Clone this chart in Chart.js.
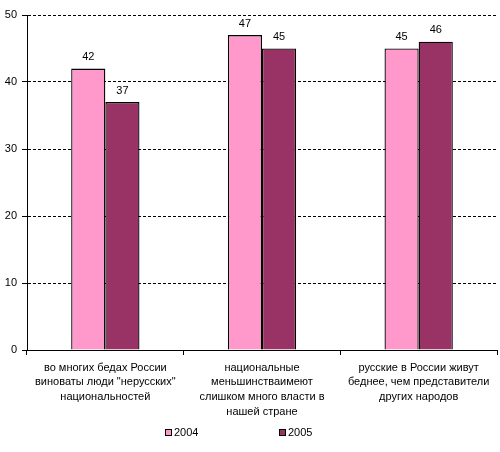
<!DOCTYPE html>
<html>
<head>
<meta charset="utf-8">
<script src="https://cdn.jsdelivr.net/npm/chart.js@4/dist/chart.umd.min.js"></script>
<style>
  html, body { margin: 0; padding: 0; background: #fff; }
  #wrap { width: 500px; height: 452px; }
</style>
</head>
<body>
<div id="wrap"><canvas id="chart" width="500" height="452"></canvas></div>
<script>
// ----- DATA -----
const categories = [
  ['во многих бедах России', 'виноваты люди "нерусских"', 'национальностей'],
  ['национальные', 'меньшинстваимеют', 'слишком много власти в', 'нашей стране'],
  ['русские в России живут', 'беднее, чем представители', 'других народов'],
]
const seriesNames = ['2004', '2005']
const values2004 = [42, 47, 45]
const values2005 = [37, 45, 46]
const yTicks = [0, 10, 20, 30, 40, 50]

const FONT = 'Liberation Sans, Arial, sans-serif'
const colors = ['#FF99CC', '#993366']

// values above each bar
const valueLabels = {
  id: 'valueLabels',
  afterDatasetsDraw(chart) {
    const ctx = chart.ctx
    ctx.save()
    ctx.font = '11px ' + FONT
    ctx.fillStyle = '#000'
    ctx.textAlign = 'center'
    ctx.textBaseline = 'bottom'
    chart.data.datasets.forEach((ds, i) => {
      chart.getDatasetMeta(i).data.forEach((bar, j) => {
        ctx.fillText(String(ds.data[j]), bar.x, bar.y - 6)
      })
    })
    ctx.restore()
  },
}

// small square legend under the chart
const bottomLegend = {
  id: 'bottomLegend',
  afterDraw(chart) {
    const ctx = chart.ctx
    const y = chart.height - 19
    const starts = [165, 279]
    ctx.save()
    ctx.font = '11px ' + FONT
    ctx.textBaseline = 'middle'
    chart.data.datasets.forEach((ds, i) => {
      const x = starts[i]
      ctx.fillStyle = ds.backgroundColor
      ctx.fillRect(x + 0.5, y - 3.5, 6, 6)
      ctx.strokeStyle = '#000'
      ctx.lineWidth = 1
      ctx.strokeRect(x + 0.5, y - 3.5, 6, 6)
      ctx.fillStyle = '#000'
      ctx.fillText(ds.label, x + 9, y)
    })
    ctx.restore()
  },
}

new Chart(document.getElementById('chart'), {
  type: 'bar',
  data: {
    labels: categories,
    datasets: [
      { label: seriesNames[0], data: values2004, backgroundColor: colors[0] },
      { label: seriesNames[1], data: values2005, backgroundColor: colors[1] },
    ].map((d) => ({
      ...d,
      borderColor: '#000',
      borderWidth: 1.3,
      borderSkipped: 'bottom',
      categoryPercentage: 0.436,
      barPercentage: 1,
    })),
  },
  options: {
    responsive: false,
    animation: false,
    layout: { padding: { top: 15, right: 3, left: 0, bottom: 0 } },
    plugins: { legend: { display: false }, tooltip: { enabled: false } },
    scales: {
      x: {
        afterFit: (s) => { s.height = 102 },
        grid: {
          offset: true,
          drawOnChartArea: false,
          color: '#000',
          tickLength: 5,
        },
        border: { color: '#000', width: 1 },
        ticks: {
          autoSkip: false,
          maxRotation: 0,
          padding: 5,
          color: '#000',
          font: { family: FONT, size: 11, lineHeight: 1.36 },
        },
      },
      y: {
        min: 0,
        max: 50,
        afterFit: (s) => { s.width = 27 },
        afterBuildTicks: (s) => { s.ticks = yTicks.map((v) => ({ value: v })) },
        grid: {
          color: '#000',
          tickBorderDash: [],
          tickLength: 5,
        },
        border: { color: '#000', width: 1, dash: [3, 2] },
        ticks: {
          padding: 5,
          color: '#000',
          font: { family: FONT, size: 11 },
        },
      },
    },
  },
  plugins: [valueLabels, bottomLegend],
})
</script>
</body>
</html>
